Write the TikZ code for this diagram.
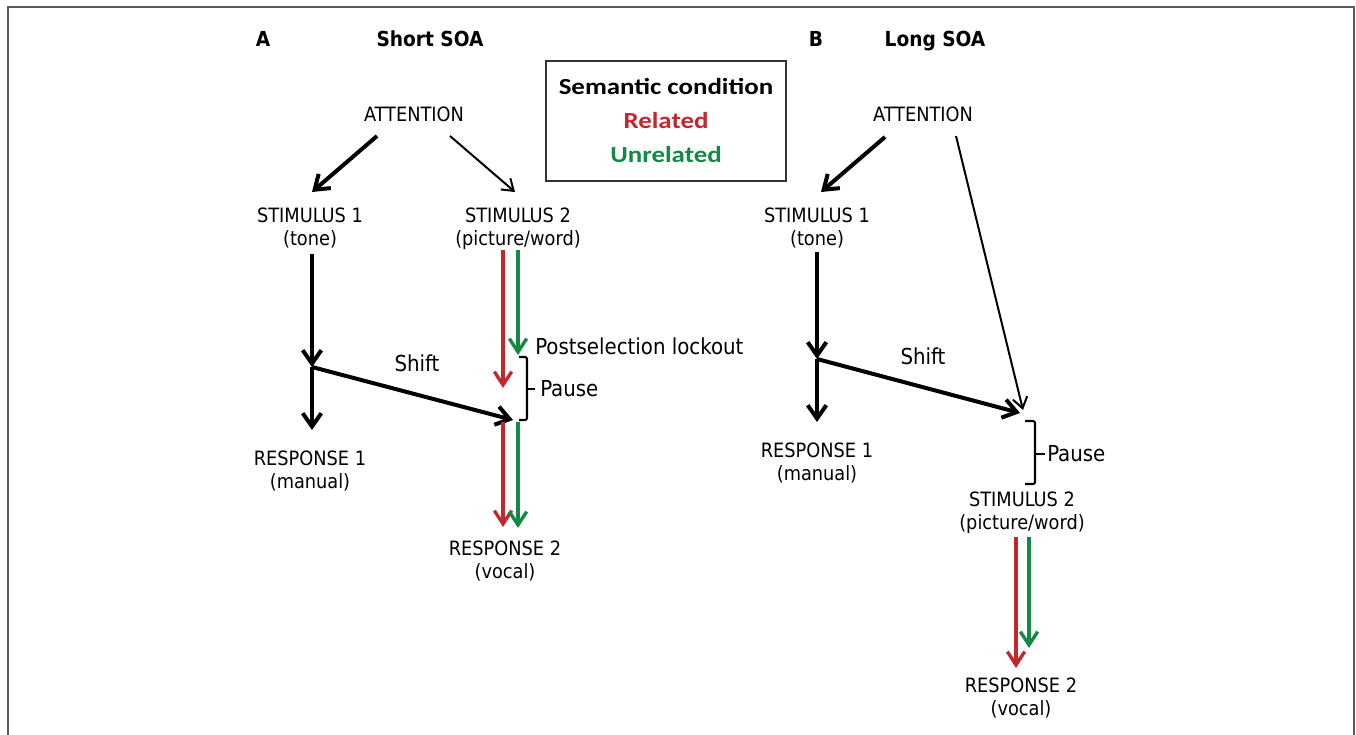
\documentclass[tikz,border=0pt]{standalone}
\usepackage{fontspec}
\IfFontExistsTF{DejaVu Sans Condensed}{\setmainfont{DejaVu Sans Condensed}}{\setmainfont{DejaVu Sans}}
\newfontfamily\legfont{Carlito}
\usetikzlibrary{arrows.meta}
\definecolor{relred}{HTML}{C1272D}
\definecolor{unrgreen}{HTML}{138A43}
\definecolor{framegray}{HTML}{5A5A5A}
\definecolor{boxgray}{HTML}{333333}
\begin{document}
\begin{tikzpicture}[x=0.75pt,y=-0.75pt,
  lbl/.style={font=\fontsize{14.8}{17.25}\selectfont, align=center, inner sep=0pt, anchor=north},
  ttl/.style={font=\fontsize{15.5}{18}\selectfont\bfseries, inner sep=0pt, anchor=base},
  big/.style={font=\fontsize{16.5}{20}\selectfont, inner sep=0pt},
  leg/.style={font=\legfont\fontsize{17.25}{20}\selectfont\bfseries, inner sep=0pt},
  thickarr/.style={line width=3pt, -{Straight Barb[length=10pt,width=14pt]}},
  thinarr/.style={line width=1.5pt, -{Straight Barb[length=8pt,width=11pt]}},
  redarr/.style={relred, line width=2.5pt, -{Straight Barb[length=10pt,width=13pt]}},
  greenarr/.style={unrgreen, line width=2.5pt, -{Straight Barb[length=10pt,width=13pt]}},
  brk/.style={line width=1.6pt, line join=round, rounded corners=1.5pt}
]
\useasboundingbox (0,0) rectangle (1356,735);
% frame
\draw[framegray, line width=1.6pt] (8,740) -- (8,7) -- (1354,7) -- (1354,740);

% titles
\node[ttl] (tA) at (263,47) {A};
\node[ttl] (tSA) at (430,47) {Short SOA};
\node[ttl] (tB) at (816,47) {B};
\node[ttl] (tLA) at (935,47) {Long SOA};

% legend
\node[draw=boxgray, line width=1pt, minimum width=180pt, minimum height=90pt, inner sep=0pt] (legbox) at (666,121) {};
\node[leg] (legT) at (666,86) {\scalebox{1.17}[1]{Semantic condition}};
\node[leg, text=relred] (legR) at (666,121) {\scalebox{1.17}[1]{Related}};
\node[leg, text=unrgreen] (legU) at (666,155) {\scalebox{1.17}[1]{Unrelated}};

% ===== Panel A =====
\node[lbl, anchor=center] (attA) at (414,114) {ATTENTION};
\node[lbl] (s1A) at (310,208) {STIMULUS 1\\(tone)};
\node[lbl] (s2A) at (518,208) {STIMULUS 2\\(picture/word)};
\node[lbl] (r1A) at (310,451) {RESPONSE 1\\(manual)};
\node[lbl] (r2A) at (505,541) {RESPONSE 2\\(vocal)};
\node[big, anchor=center] (shiftA) at (417,363) {Shift};
\node[big, anchor=west] (lockA) at (535,346) {Postselection lockout};
\node[big, anchor=west] (pauseA) at (540,389) {Pause};

\coordinate (aA1) at (377,136); \coordinate (aA1e) at (312,192);
\coordinate (aA2) at (450,136); \coordinate (aA2e) at (515,192);
\coordinate (vA0) at (312,254); \coordinate (jA) at (312,367);
\coordinate (r1Ae) at (312,430); \coordinate (shAe) at (513,420);
\coordinate (rdA0) at (503,250); \coordinate (rdA1) at (503,388);
\coordinate (gnA0) at (518,250); \coordinate (gnA1) at (518,355);
\coordinate (rdA2) at (503,422); \coordinate (rdA3) at (503,527);
\coordinate (gnA2) at (518,422); \coordinate (gnA3) at (518,528);
\coordinate (bkA1) at (519,357); \coordinate (bkA2) at (527,357);
\coordinate (bkA3) at (527,420); \coordinate (bkA4) at (519,420);
\coordinate (bkAm) at (527,389); \coordinate (bkAt) at (535,389);

\draw[thickarr] (aA1) -- (aA1e);
\draw[thinarr] (aA2) -- (aA2e);
\draw[thickarr] (vA0) -- (jA);
\draw[thickarr] (jA) -- (r1Ae);
\draw[thickarr] (jA) -- (shAe);
\draw[redarr] (rdA0) -- (rdA1);
\draw[greenarr] (gnA0) -- (gnA1);
\draw[redarr] (rdA2) -- (rdA3);
\draw[greenarr] (gnA2) -- (gnA3);
\draw[brk] (bkA1) -- (bkA2) -- (bkA3) -- (bkA4);
\draw[brk] (bkAm) -- (bkAt);

% ===== Panel B =====
\node[lbl, anchor=center] (attB) at (923,114) {ATTENTION};
\node[lbl] (s1B) at (817,208) {STIMULUS 1\\(tone)};
\node[lbl] (r1B) at (817,443) {RESPONSE 1\\(manual)};
\node[lbl] (s2B) at (1022,492) {STIMULUS 2\\(picture/word)};
\node[lbl] (r2B) at (1021,678) {RESPONSE 2\\(vocal)};
\node[big, anchor=center] (shiftB) at (923,356) {Shift};
\node[big, anchor=west] (pauseB) at (1047,454) {Pause};

\coordinate (aB1) at (885,137); \coordinate (aB1e) at (821,192);
\coordinate (aB2) at (956,136); \coordinate (aB2e) at (1023,410);
\coordinate (vB0) at (817,252); \coordinate (jB) at (817,359);
\coordinate (r1Be) at (817,422); \coordinate (shBe) at (1020,413);
\coordinate (rdB0) at (1016,537); \coordinate (rdB1) at (1016,668);
\coordinate (gnB0) at (1029,537); \coordinate (gnB1) at (1029,648);
\coordinate (bkB1) at (1025,421); \coordinate (bkB2) at (1035,421);
\coordinate (bkB3) at (1035,484); \coordinate (bkB4) at (1025,484);
\coordinate (bkBm) at (1035,454); \coordinate (bkBt) at (1045,454);

\draw[thickarr] (aB1) -- (aB1e);
\draw[thinarr] (aB2) -- (aB2e);
\draw[thickarr] (vB0) -- (jB);
\draw[thickarr] (jB) -- (r1Be);
\draw[thickarr] (jB) -- (shBe);
\draw[redarr] (rdB0) -- (rdB1);
\draw[greenarr] (gnB0) -- (gnB1);
\draw[brk] (bkB1) -- (bkB2) -- (bkB3) -- (bkB4);
\draw[brk] (bkBm) -- (bkBt);
\end{tikzpicture}
\end{document}
